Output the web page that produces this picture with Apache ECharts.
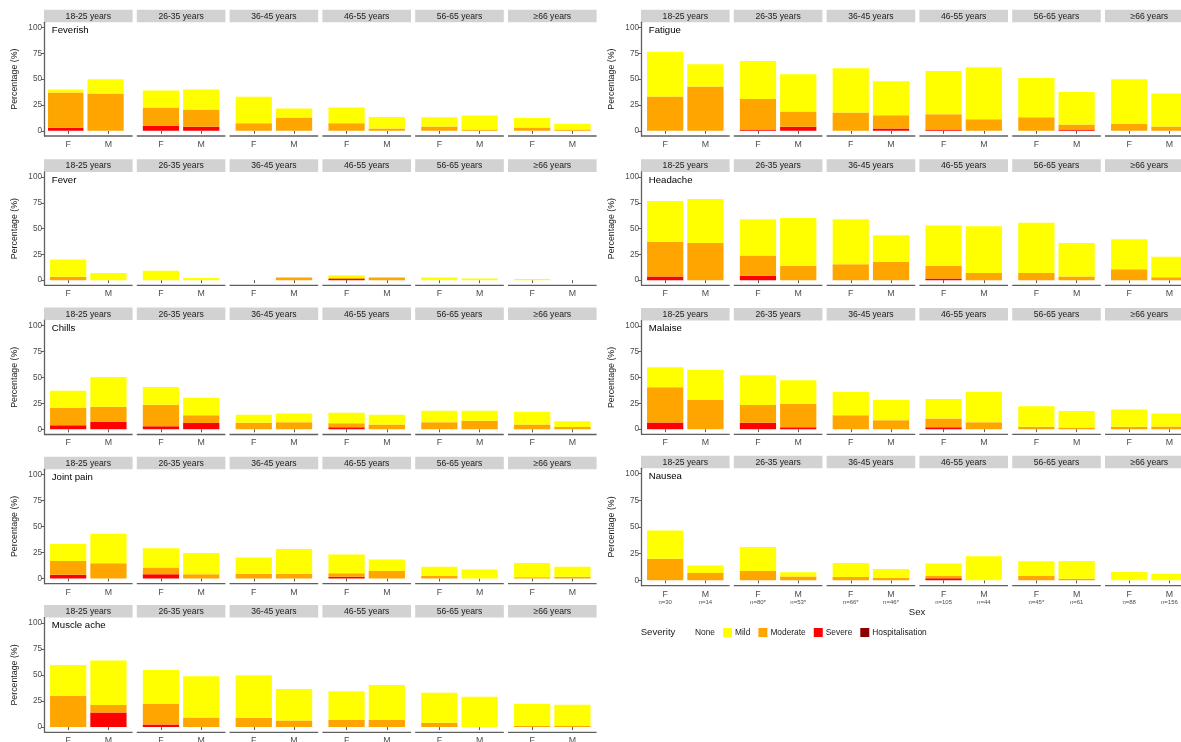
<!DOCTYPE html>
<html><head><meta charset="utf-8">
<script src="https://cdn.jsdelivr.net/npm/echarts@6/dist/echarts.min.js"></script>
<style>html,body{margin:0;padding:0;background:#fff}#c{width:1181px;height:742px}</style>
</head><body><div id="c"></div><script>
// ---------- categories ----------
const ageGroups = ['18-25 years','26-35 years','36-45 years','46-55 years','56-65 years','\u226566 years'];
const sexes = ['F','M'];
const yTicks = [0, 25, 50, 75, 100];
const severityLevels = ['None','Mild','Moderate','Severe','Hospitalisation'];
// sample sizes shown under the Nausea panel (F, M per age group)
const sampleSizes = ['n=30','n=14','n=80*','n=53*','n=66*','n=46*','n=105','n=44','n=45*','n=61','n=88','n=156'];

// ---------- values (%): order F,M for each age group ----------
const feverishSevere   = [3, 0, 5, 4, 0, 0, 0, 0, 0, 0, 0, 0];
const feverishModerate = [34, 36, 17.5, 16.6, 7.4, 13, 7.4, 2.3, 4.2, 1.3, 3.2, 1.3];
const feverishMild     = [3, 14, 16.5, 19.4, 25.6, 8.5, 15.1, 11.2, 9, 13.5, 9.3, 5.5];

const feverSevere   = [0, 0, 0, 0, 0, 0, 1.2, 0, 0, 0, 0, 0];
const feverModerate = [3.2, 0, 0, 0, 0, 2.5, 1.3, 2.5, 0, 0, 0, 0];
const feverMild     = [16.8, 7, 9, 2.2, 0, 0, 2.3, 0, 2.5, 1.6, 1.2, 0];

const chillsSevere   = [3.8, 7.3, 2.9, 6.1, 0, 0, 1.9, 0, 0, 0, 0, 0];
const chillsModerate = [16.6, 14.4, 20.7, 7.3, 6.4, 6.7, 3.9, 4.5, 6.7, 8.3, 4.5, 2.2];
const chillsMild     = [16.6, 28.5, 17, 17, 7.7, 8.6, 10.2, 9.6, 11.2, 9.6, 12.4, 5.5];

const jointSevere   = [3.5, 0, 4.2, 0, 0, 0, 1.6, 0, 0, 0, 0, 0];
const jointModerate = [13.4, 14.7, 6.3, 4.2, 4.5, 4.5, 3.5, 7.3, 2.6, 0, 1.3, 1.6];
const jointMild     = [16.3, 28.4, 18.6, 20.4, 15.6, 23.9, 17.9, 10.9, 8.6, 8.6, 13.7, 9.6];

const muscleSevere   = [0, 14.1, 2.6, 0, 0, 0, 0, 0, 0, 0, 0, 0];
const muscleModerate = [29.8, 7.1, 19.5, 9.3, 9, 6.4, 6.7, 6.7, 4.2, 0, 1.3, 1];
const muscleMild     = [29.8, 42.6, 32.7, 39.4, 40.7, 30.1, 27.6, 33.7, 28.8, 29.2, 21.1, 20.5];

const fatigueSevere   = [0, 0, 1.3, 3.9, 0, 2.3, 1.3, 0, 0, 1.3, 0, 0];
const fatigueModerate = [33.1, 42.8, 29.6, 14.7, 17.7, 12.8, 14.8, 11.3, 13.2, 4.8, 6.8, 4.2];
const fatigueMild     = [43.4, 21.5, 36.6, 36.1, 42.8, 32.8, 41.8, 50.1, 37.9, 31.5, 43, 31.8];

const headacheSevere   = [3.5, 0, 4.2, 0, 0, 0, 1.6, 0, 0, 0, 0, 0];
const headacheModerate = [33.6, 36.1, 19.8, 13.7, 15.3, 17.6, 12.1, 7, 7, 3.5, 10.5, 2.9];
const headacheMild     = [39.6, 42.5, 35.1, 46.7, 43.8, 25.9, 39.3, 45.4, 48.6, 32.6, 29.1, 19.8];

const malaiseSevere   = [6.4, 0, 6.1, 1.9, 0, 0, 1.9, 0, 0, 0, 0, 0];
const malaiseModerate = [34, 28.5, 17.3, 22.5, 13.5, 8.7, 8.4, 6.7, 2.2, 1.6, 2.2, 2.6];
const malaiseMild     = [19.5, 28.9, 28.8, 23, 22.7, 19.5, 18.9, 29.5, 19.9, 16, 16.7, 12.5];

const nauseaSevere   = [0, 0, 0, 0, 0, 0, 1.9, 0, 0, 0, 0, 0];
const nauseaModerate = [20.2, 6.9, 8.7, 3.7, 3.1, 2.5, 2.1, 0, 4.4, 1.6, 0, 0];
const nauseaMild     = [26.5, 7.1, 22.5, 3.8, 13.1, 8.1, 11.9, 22.7, 13.4, 16.5, 7.8, 6.2];

const symptoms = {
  'Feverish':    [feverishSevere, feverishModerate, feverishMild],
  'Fever':       [feverSevere, feverModerate, feverMild],
  'Chills':      [chillsSevere, chillsModerate, chillsMild],
  'Joint pain':  [jointSevere, jointModerate, jointMild],
  'Muscle ache': [muscleSevere, muscleModerate, muscleMild],
  'Fatigue':     [fatigueSevere, fatigueModerate, fatigueMild],
  'Headache':    [headacheSevere, headacheModerate, headacheMild],
  'Malaise':     [malaiseSevere, malaiseModerate, malaiseMild],
  'Nausea':      [nauseaSevere, nauseaModerate, nauseaMild]
};
const leftSymptoms = ['Feverish','Fever','Chills','Joint pain','Muscle ache'];
const rightSymptoms = ['Fatigue','Headache','Malaise','Nausea'];

// ---------- layout ----------
const FONT = '"Liberation Sans", Arial, Helvetica, sans-serif';
const COLORS = {None:'#FFFFFF', Mild:'#FFFF00', Moderate:'#FFA500', Severe:'#FF0000', Hospitalisation:'#8B0000'};
const stackOrder = ['Severe','Moderate','Mild'];
const pitch = 92.8, facetW = 88.6, stripH = 12.6;
const inset = facetW * 0.1 / 2.2;           // ggplot discrete expansion (0.6 vs 0.5 band)
const band = (facetW - 2 * inset) / 2;
const barW = 0.9 * band;
const columns = [
  {x0: 44, syms: leftSymptoms, stripTop: [9.7, 159.3, 307.5, 456.7, 605], bottom: [136, 285.3, 434.5, 583.7, 732.3]},
  {x0: 641, syms: rightSymptoms, stripTop: [9.7, 159.3, 308, 455.7], bottom: [136, 285.3, 434.3, 585.7]}
];
const axisColor = '#5f5f5f';
const textColor = '#4d4d4d';

const grids = [], xAxes = [], yAxes = [], series = [], graphics = [];
let gi = 0;
columns.forEach(col => {
  col.syms.forEach((sym, r) => {
    const stripTop = col.stripTop[r];
    const top = stripTop + stripH;
    const bottom = col.bottom[r];
    const h = bottom - top;
    const isNausea = sym === 'Nausea';
    ageGroups.forEach((age, a) => {
      const left = col.x0 + a * pitch;
      grids.push({left: left + inset, top: top, width: facetW - 2 * inset, height: h, containLabel: false, outerBoundsMode: 'none'});
      xAxes.push({
        type: 'category', gridIndex: gi, data: sexes, boundaryGap: true,
        axisLine: {show: false},
        axisTick: {show: true, length: 3, alignWithLabel: true, lineStyle: {color: axisColor, width: 1}},
        axisLabel: {
          margin: 4, color: textColor, fontSize: 8.8, fontFamily: FONT, lineHeight: 9, interval: 0,
          formatter: isNausea ? ((v, i) => v + '\n{n|' + sampleSizes[a * 2 + i] + '}') : (v => v),
          rich: {n: {fontSize: 6, lineHeight: 8, color: textColor, fontFamily: FONT}}
        },
        splitLine: {show: false}
      });
      const first = a === 0;
      yAxes.push({
        type: 'value', gridIndex: gi, min: -5, max: 105, show: first, offset: inset,
        name: first ? 'Percentage (%)' : '', nameLocation: 'middle', nameGap: 25,
        nameTextStyle: {fontSize: 8.8, color: '#1a1a1a', fontFamily: FONT},
        axisLine: {show: true, lineStyle: {color: axisColor, width: 1.3}},
        axisTick: {show: true, length: 3, customValues: yTicks, lineStyle: {color: axisColor, width: 1}},
        axisLabel: {customValues: yTicks, margin: 2, color: textColor, fontSize: 8.2, fontFamily: FONT},
        splitLine: {show: false}
      });
      const arrs = symptoms[sym];
      stackOrder.forEach((lvl, li) => {
        series.push({
          type: 'bar', name: lvl, xAxisIndex: gi, yAxisIndex: gi, stack: 'st' + gi,
          barWidth: barW, silent: true,
          itemStyle: {color: COLORS[lvl]},
          data: sexes.map((s, k) => arrs[li][a * 2 + k])
        });
      });
      // x axis baseline across the whole facet
      graphics.push({type: 'line', shape: {x1: left, y1: bottom, x2: left + facetW, y2: bottom},
        style: {stroke: axisColor, lineWidth: 1.3}, silent: true, z: 10});
      // facet strip
      graphics.push({type: 'rect', shape: {x: left, y: stripTop, width: facetW, height: stripH}, style: {fill: '#D2D2D2'}, silent: true});
      graphics.push({type: 'text', x: left + facetW / 2, y: stripTop + stripH / 2 + 0.5,
        style: {text: age, fill: '#1a1a1a', font: '8.6px ' + FONT, textAlign: 'center', textVerticalAlign: 'middle'}, silent: true});
      gi++;
    });
    // symptom title inside first facet
    const y100 = bottom - (5 / 110) * h - (100 / 110) * h;
    graphics.push({type: 'text', x: col.x0 + 7.8, y: y100 + 2.8,
      style: {text: sym, fill: '#000', font: '9.6px ' + FONT, textAlign: 'left', textVerticalAlign: 'middle'}, silent: true});
  });
});

// legend-only series
series.push({type: 'bar', name: 'None', xAxisIndex: 0, yAxisIndex: 0, data: [], itemStyle: {color: COLORS.None}});
series.push({type: 'bar', name: 'Hospitalisation', xAxisIndex: 0, yAxisIndex: 0, data: [], itemStyle: {color: COLORS.Hospitalisation}});

graphics.push({type: 'text', x: 917, y: 612.3, style: {text: 'Sex', fill: '#1a1a1a', font: '9.6px ' + FONT, textAlign: 'center', textVerticalAlign: 'middle'}});
graphics.push({type: 'text', x: 640.7, y: 632.7, style: {text: 'Severity', fill: '#1a1a1a', font: '9.6px ' + FONT, textAlign: 'left', textVerticalAlign: 'middle'}});

const option = {
  animation: false,
  backgroundColor: '#ffffff',
  grid: grids, xAxis: xAxes, yAxis: yAxes, series: series,
  legend: {
    data: severityLevels, left: 683, top: 628, padding: 0,
    itemWidth: 9, itemHeight: 9, itemGap: 8, icon: 'rect', selectedMode: false,
    textStyle: {fontSize: 8.4, color: '#1a1a1a', fontFamily: FONT, padding: [0, 0, 0, -2]}
  },
  graphic: graphics
};
const chart = echarts.init(document.getElementById('c'), null, {renderer: 'canvas'});
chart.setOption(option);
</script></body></html>
